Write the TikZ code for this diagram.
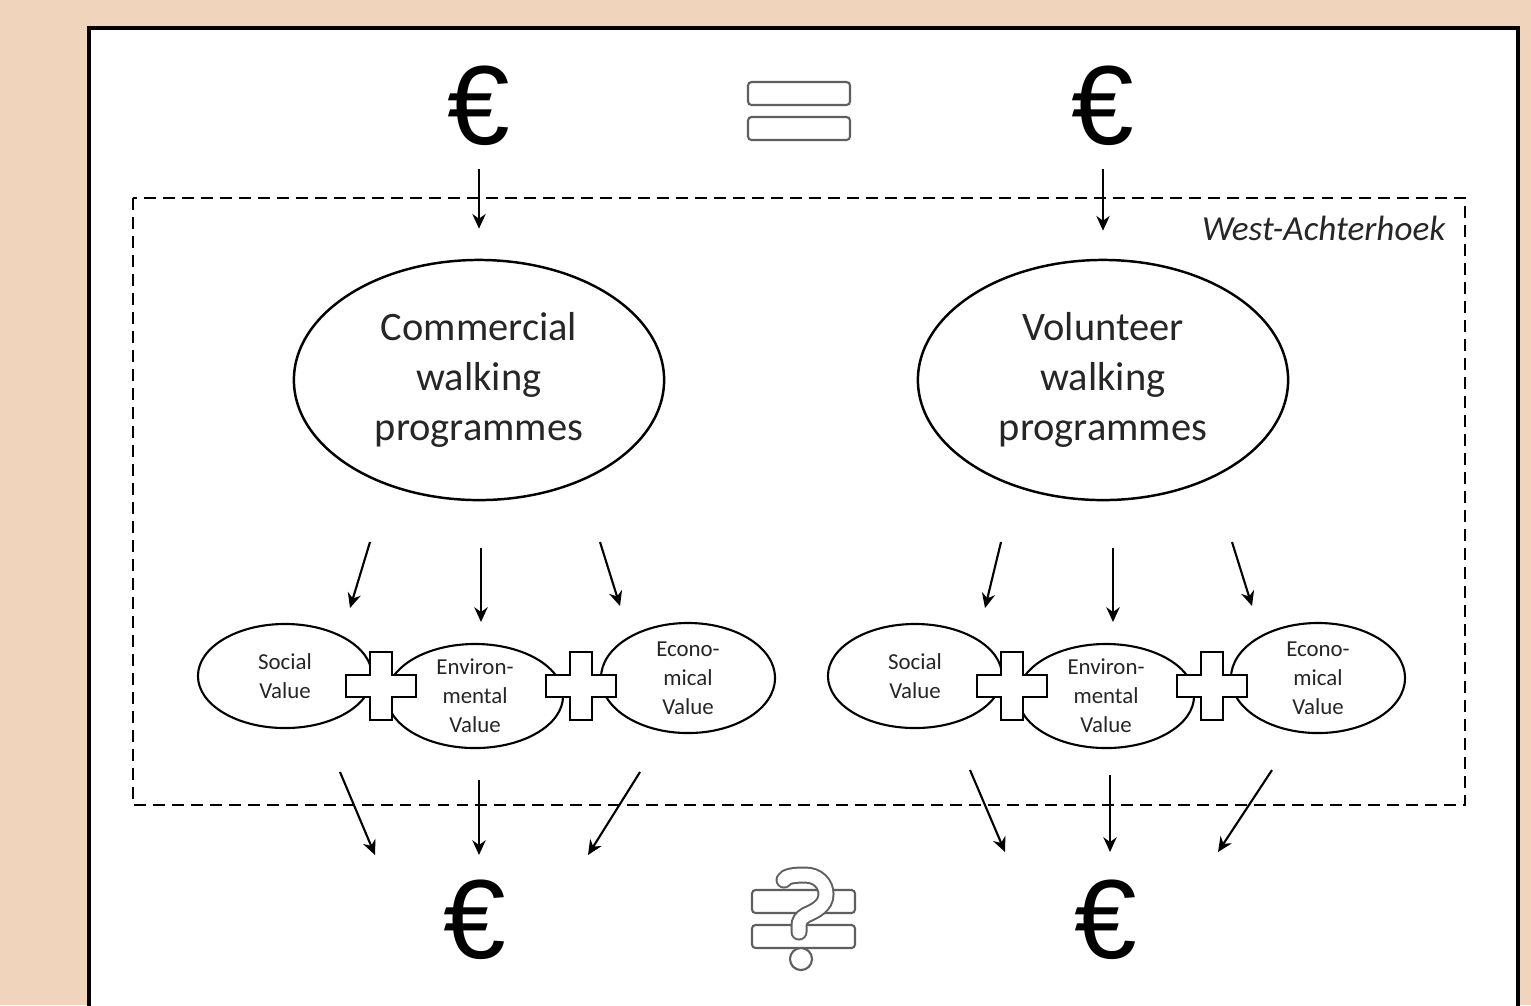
\documentclass[tikz,border=0pt]{standalone}
\usepackage{fontspec}
\setmainfont{Carlito}
\newfontfamily\eurofont{Liberation Sans}
\usetikzlibrary{shapes.geometric,arrows.meta}

\definecolor{peach}{RGB}{241,212,188}
\definecolor{txtgray}{RGB}{38,38,38}
\definecolor{symgray}{RGB}{95,95,95}

\tikzset{
  arr/.style={line width=0.6pt, -{Stealth[length=4.2pt,width=3.8pt]}},
  bigoval/.style={ellipse, draw, line width=0.7pt, minimum width=37mm, minimum height=24mm,
    inner sep=0pt, align=center, text=txtgray, font=\fontsize{11.5}{14.2}\selectfont},
  valoval/.style={ellipse, draw, line width=0.6pt, fill=white, minimum width=17.4mm,
    minimum height=10.4mm, inner sep=0pt, align=center, text=txtgray,
    font=\fontsize{6.5}{8.2}\selectfont},
  euro/.style={inner sep=0pt, font=\eurofont\fontsize{32}{36}\selectfont},
  barbox/.style={draw=symgray, line width=0.6pt, rounded corners=1pt, fill=white},
  plussign/.pic={
    \draw[fill=white, line width=0.7pt] (-11,-34) -- (11,-34) -- (11,-11) -- (35,-11)
      -- (35,11) -- (11,11) -- (11,34) -- (-11,34) -- (-11,11) -- (-35,11)
      -- (-35,-11) -- (-11,-11) -- cycle;}
}

\begin{document}
\begin{tikzpicture}[x=0.01cm, y=-0.01cm]
\useasboundingbox (0,0) rectangle (1531,1005);
\clip (0,0) rectangle (1531,1005);
\fill[peach] (0,0) rectangle (1531,1005);
\draw[fill=white, line width=1.1pt] (89,28) rectangle (1518,1030);

% region border
\draw[line width=0.7pt, dash pattern=on 3.4pt off 2pt] (133,198) rectangle (1465,805);
\node[anchor=east, inner sep=0pt, text=txtgray, font=\fontsize{10}{12}\selectfont\itshape] (region) at (1446,228) {West-Achterhoek};

% money in
\node[euro] (eurCom) at (479,106) {€};
\node[euro] (eurVol) at (1103,106) {€};
\draw[barbox] (748,82) rectangle (850,105);
\draw[barbox] (748,117) rectangle (850,140);

% programmes
\node[bigoval] (comm) at (479,380) {Commercial\\walking\\programmes};
\node[bigoval] (volu) at (1103,380) {Volunteer\\walking\\programmes};
\draw[arr, shorten <=0.22cm, shorten >=0.3cm] (eurCom.south) -- (comm.north);
\draw[arr, shorten <=0.22cm, shorten >=0.28cm] (eurVol.south) -- (volu.north);

% values, commercial side
\node[valoval] (socC) at (285,676) {Social\\Value};
\node[valoval, minimum width=17.6mm] (envC) at (475,696) {Environ-\\mental\\Value};
\node[valoval, minimum height=11mm] (ecoC) at (688,678) {Econo-\\mical\\Value};
\pic at (381,686) {plussign};
\pic at (581,686) {plussign};

% values, volunteer side
\node[valoval] (socV) at (915,676) {Social\\Value};
\node[valoval, minimum width=17.6mm] (envV) at (1106,696) {Environ-\\mental\\Value};
\node[valoval, minimum height=11mm] (ecoV) at (1318,678) {Econo-\\mical\\Value};
\pic at (1012,686) {plussign};
\pic at (1212,686) {plussign};

% arrow ends
\coordinate (cS0) at (370,542); \coordinate (cS1) at (350,608);
\coordinate (cE0) at (481,548); \coordinate (cE1) at (481,622);
\coordinate (cC0) at (600,542); \coordinate (cC1) at (620,606);
\coordinate (vS0) at (1001,542); \coordinate (vS1) at (985,608);
\coordinate (vE0) at (1113,548); \coordinate (vE1) at (1113,622);
\coordinate (vC0) at (1232,542); \coordinate (vC1) at (1252,606);
\coordinate (cS2) at (340,772); \coordinate (cS3) at (375,855);
\coordinate (cE2) at (479,780); \coordinate (cE3) at (479,855);
\coordinate (cC2) at (640,772); \coordinate (cC3) at (588,855);
\coordinate (vS2) at (970,770); \coordinate (vS3) at (1005,852);
\coordinate (vE2) at (1110,775); \coordinate (vE3) at (1110,852);
\coordinate (vC2) at (1272,770); \coordinate (vC3) at (1218,852);

\draw[arr] (cS0) -- (cS1);
\draw[arr] (cE0) -- (cE1);
\draw[arr] (cC0) -- (cC1);
\draw[arr] (vS0) -- (vS1);
\draw[arr] (vE0) -- (vE1);
\draw[arr] (vC0) -- (vC1);
\draw[arr] (cS2) -- (cS3);
\draw[arr] (cE2) -- (cE3);
\draw[arr] (cC2) -- (cC3);
\draw[arr] (vS2) -- (vS3);
\draw[arr] (vE2) -- (vE3);
\draw[arr] (vC2) -- (vC3);

% money out
\node[euro] (eurComOut) at (475,920) {€};
\node[euro] (eurVolOut) at (1106,920) {€};

% equal or not?
\draw[barbox] (752,890) rectangle (855,913);
\draw[barbox] (752,925) rectangle (855,948);
\draw[symgray, line width=0.17cm, line cap=round]
  (784,880) .. controls (786,876) and (794,875) .. (805,875)
  .. controls (818,875) and (826,884) .. (826,894)
  .. controls (826,906) and (815,911) .. (806,915)
  .. controls (801,918) and (799,921) .. (799,926) -- (799,932);
\draw[white, line width=0.13cm, line cap=round]
  (784,880) .. controls (786,876) and (794,875) .. (805,875)
  .. controls (818,875) and (826,884) .. (826,894)
  .. controls (826,906) and (815,911) .. (806,915)
  .. controls (801,918) and (799,921) .. (799,926) -- (799,932);
\draw[symgray, fill=white, line width=0.6pt] (801,959) circle (0.11cm);
\end{tikzpicture}
\end{document}
